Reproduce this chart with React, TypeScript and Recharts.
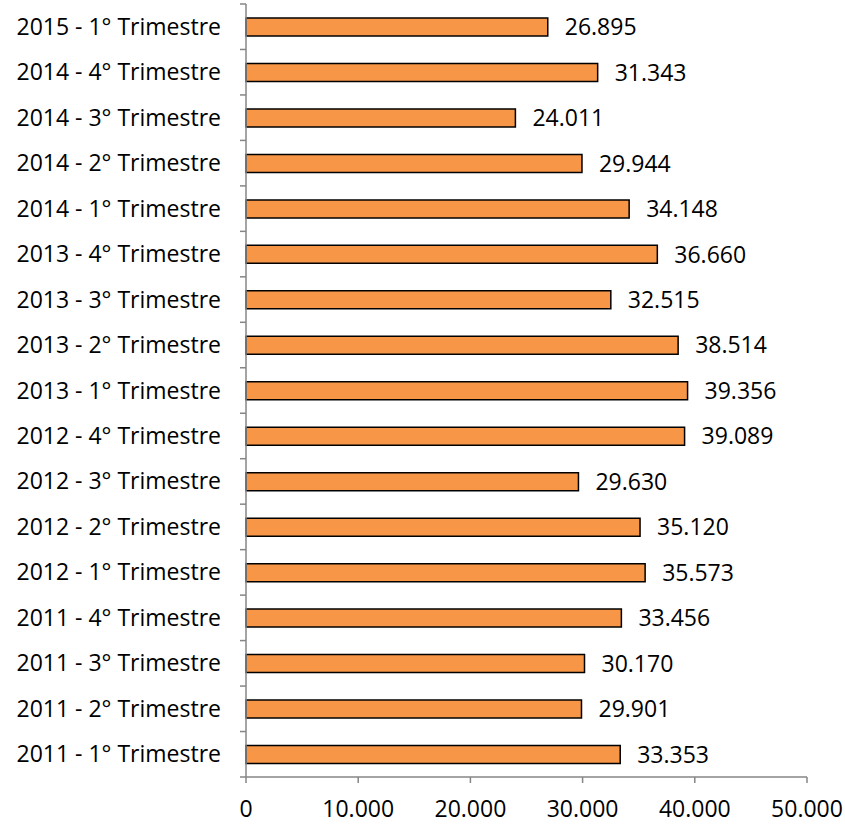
import { Bar, BarChart, LabelList, XAxis, YAxis } from "recharts"

const categories = [
  "2015 - 1° Trimestre",
  "2014 - 4° Trimestre",
  "2014 - 3° Trimestre",
  "2014 - 2° Trimestre",
  "2014 - 1° Trimestre",
  "2013 - 4° Trimestre",
  "2013 - 3° Trimestre",
  "2013 - 2° Trimestre",
  "2013 - 1° Trimestre",
  "2012 - 4° Trimestre",
  "2012 - 3° Trimestre",
  "2012 - 2° Trimestre",
  "2012 - 1° Trimestre",
  "2011 - 4° Trimestre",
  "2011 - 3° Trimestre",
  "2011 - 2° Trimestre",
  "2011 - 1° Trimestre",
]

const values = [
  26895, 31343, 24011, 29944, 34148, 36660, 32515, 38514, 39356, 39089, 29630,
  35120, 35573, 33456, 30170, 29901, 33353,
]

const xTicks = [0, 10000, 20000, 30000, 40000, 50000]

const data = categories.map((name, i) => ({ name, total: values[i] }))

const fmt = (v: any) => Number(v).toLocaleString("de-DE")

const FONT = "'Open Sans', sans-serif"
const FS = 23
const AXIS = "#868686"

function CategoryTick(props: any) {
  const { x, y, payload, index } = props
  const half = payload?.offset ?? 22.75
  const axisX = x + 6 + 19
  return (
    <g>
      <line x1={axisX - 6} x2={axisX} y1={y - half} y2={y - half} stroke={AXIS} strokeWidth={1.5} />
      {index === categories.length - 1 && (
        <line x1={axisX - 6} x2={axisX} y1={y + half} y2={y + half} stroke={AXIS} strokeWidth={1.5} />
      )}
      <text x={x} y={y} dy="0.35em" textAnchor="end" fill="#000" fontSize={FS} fontFamily={FONT}>
        {payload.value}
      </text>
    </g>
  )
}

export default function App() {
  return (
    <div style={{ width: 845, height: 825, background: "#fff" }}>
      <style>{"body{margin:0}"}</style>
      <BarChart
        layout="vertical"
        width={845}
        height={825}
        data={data}
        margin={{ top: 4, right: 38, bottom: 0, left: 0 }}
      >
        <XAxis
          type="number"
          domain={[0, 50000]}
          ticks={xTicks}
          tickFormatter={fmt}
          height={48}
          stroke={AXIS}
          strokeWidth={1.5}
          tickSize={6}
          tickMargin={18}
          tick={{ fill: "#000", fontSize: FS, fontFamily: FONT }}
          interval={0}
        />
        <YAxis
          type="category"
          dataKey="name"
          width={246}
          stroke={AXIS}
          strokeWidth={1.5}
          tickLine={false}
          tickSize={6}
          tickMargin={19}
          tick={<CategoryTick />}
          interval={0}
        />
        <Bar
          dataKey="total"
          fill="#F79646"
          stroke="#000"
          strokeWidth={1.5}
          barSize={18}
          isAnimationActive={false}
        >
          <LabelList
            dataKey="total"
            position="right"
            offset={17}
            formatter={fmt}
            fill="#000"
            fontSize={FS}
            fontFamily={FONT}
          />
        </Bar>
      </BarChart>
    </div>
  )
}
